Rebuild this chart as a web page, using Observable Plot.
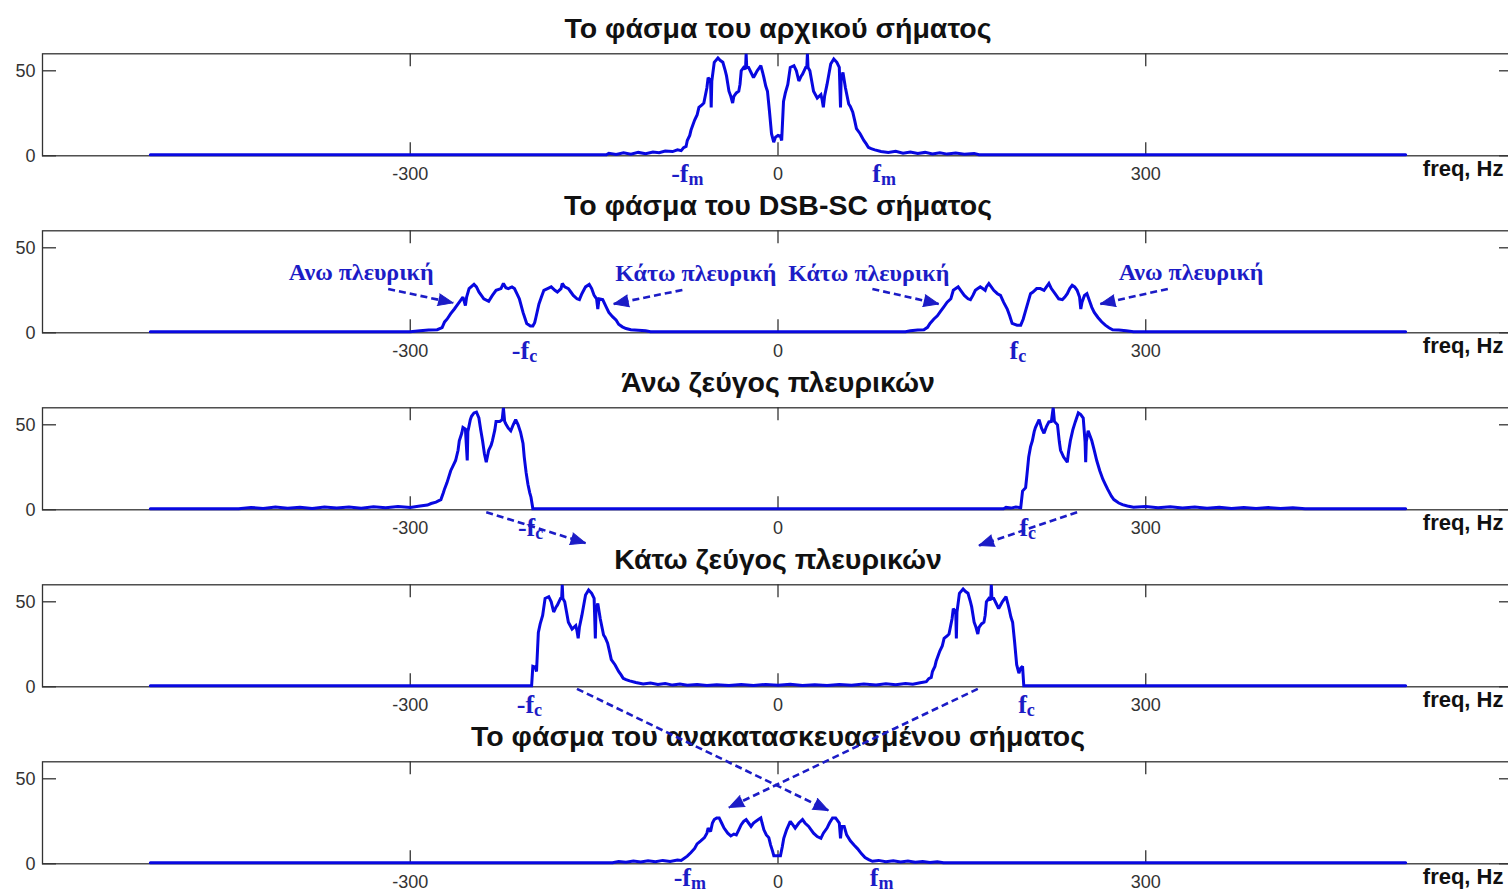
<!DOCTYPE html>
<html>
<head>
<meta charset="utf-8">
<script src="https://cdn.jsdelivr.net/npm/d3@7"></script>
<script src="https://cdn.jsdelivr.net/npm/@observablehq/plot@0.6"></script>
<style>
  html, body { margin: 0; padding: 0; background: #fff; overflow: hidden; }
  #chart { width: 1508px; height: 894px; }
</style>
</head>
<body>
<div id="chart"></div>
<script>
// ---------- data ----------
const panelIds = ["orig", "dsb", "usb", "lsb", "rec"];
const panelTitles = [
  "Το φάσμα του αρχικού σήματος",
  "Το φάσμα του DSB-SC σήματος",
  "Άνω ζεύγος πλευρικών",
  "Κάτω ζεύγος πλευρικών",
  "Το φάσμα του ανακατασκευασμένου σήματος"
];
const xTicks = [-300, 0, 300];
const xTickLabels = ["-300", "0", "300"];
const yTicks = [0, 50];
const yTickLabels = ["0", "50"];
const axisLabel = "freq, Hz";

// [freq (Hz), magnitude]
const origSpectrum = [
  [-512,0.6],[-140,0.6],[-138,1.5],[-132,0.8],[-126,1.8],[-120,1.0],[-114,2.0],[-108,1.2],[-102,2.2],[-97,1.8],
  [-92,2.8],[-86,2.5],[-82,3.5],[-79,3.0],[-77,4.8],[-75,5.5],[-74,9],[-72,12],[-71,15],[-68,21],[-66,24],
  [-64.5,28.5],[-62,30],[-60.5,31],[-58,40],[-57,46],[-55,44],[-54.5,28.5],[-54,44],[-52,55],[-49,57.5],
  [-47,56],[-45,55],[-43,50],[-42,47],[-40,38],[-38.5,35],[-37,31],[-36,35],[-34,37],[-32,38],[-31,42],
  [-30,50],[-28,52],[-26.5,51],[-26,60],[-25.5,52],[-24,52],[-22,49],[-20,46],[-18.5,48],[-17,50],[-15,52],
  [-14,53],[-12.5,49],[-11.5,46],[-10,41],[-8.6,38],[-7,26.5],[-5.3,13],[-3.5,8],[-2,11],[0,12],[2,11.5],
  [3,9],[4.5,32],[6,37],[8,42],[10,52],[13,53],[15,50],[17,44],[19,47],[20,48],[22.6,52],[23.5,52],[24,60],
  [24.5,52],[26,50],[27.5,44],[29,38],[32,34],[35,36],[36,33],[37,28.5],[38,35],[40,42],[41.5,48],[43,54],
  [45.5,57],[48,55],[50,52],[51,28.5],[51.5,45],[53,49],[55,40],[57.7,30.5],[59,29],[61,25.6],[62.5,21],
  [64,16],[67,13],[70,9],[72,7],[73.7,5],[76,4.2],[79,3.5],[84,2.5],[90,2.0],[96,2.6],[102,1.5],[108,2.2],
  [114,1.3],[120,2.0],[126,1.1],[132,1.8],[138,1.0],[145,1.6],[152,0.9],[160,1.4],[164,0.6],[512,0.6]
];
const dsbSpectrum = [
  [-512,0.6],[-300,0.6],[-292,1.2],[-285,1.6],[-278,1.8],[-274,3],[-272,6.4],[-270,8],[-267,11.3],[-264,14],
  [-261,17],[-257,21],[-255,16],[-254,21],[-252,26],[-248,28.5],[-246,27],[-244,24],[-242,22],[-240,20],
  [-236,18.5],[-233,22],[-230,25],[-226,26],[-224,29],[-222,26.5],[-220,26],[-217,27],[-215,26],[-213,23],
  [-211,20],[-208,12],[-205,5.5],[-202,4],[-200,4],[-198.5,6],[-197.5,9],[-195,17],[-193,21],[-191,25],
  [-188,26],[-185,27],[-182,25],[-180,24],[-177,26],[-176,29],[-174,27],[-171,26],[-169,24],[-167,22],
  [-164,20],[-162,19.5],[-160,23],[-157,27],[-154,28.5],[-152,26],[-150,22],[-148,20],[-147,14],[-146,20],
  [-143,19.5],[-140,15],[-138,12],[-135,9.5],[-132,7.4],[-130,5],[-127,3.5],[-124,2.5],[-120,1.8],[-114,1.5],
  [-108,1.2],[-104,0.6],
  [104,0.6],[108,1.2],[114,1.6],[119,1.8],[122,3.2],[124,5.5],[127,8],[130,10],[133,13],[135,15],[138,18],
  [141,20],[143,25],[145,26],[147,27],[149,25],[152,22],[155,20],[157,19.5],[159,22],[161,25],[163,26],
  [165,27],[167,26],[169,25],[170,27],[172,29],[174,27],[176,25],[179,23],[181.5,22],[184,18],[187,14],
  [189,10],[191,5.5],[195,4.5],[198,4.5],[200,8],[202,13],[204,18],[206,23],[208,24],[211,26],[214,26],
  [217,25],[219,27],[221,29],[223,26],[226,23],[229,20],[232,19.5],[234,21],[236,23],[238,26],[240,28],
  [242,27],[244,25],[246,21],[247,14],[248,18],[250,22],[252,23],[254,19],[256,15],[258,12],[261,9],
  [264,6.5],[267,4.5],[270,3],[273,1.8],[278,1.6],[284,1.2],[290,0.6],[512,0.6]
];
const usbSpectrum = [
  [-512,0.6],[-440,0.6],[-430,1.4],[-420,0.8],[-410,1.6],[-400,0.9],[-390,1.5],[-380,0.8],[-370,1.7],
  [-360,1.0],[-350,1.6],[-340,0.9],[-330,1.8],[-320,1.2],[-310,2.0],[-300,1.4],[-292,2.2],[-286,2.8],
  [-283,3.7],[-279,4.5],[-275,6],[-273,10],[-272,12.3],[-270,16],[-267,23],[-265,26],[-263,29],[-261,35],
  [-260,40.6],[-258,45],[-257,48.4],[-255,47.5],[-253.5,29],[-253,46],[-251,53],[-250,55],[-248,57],
  [-246,57.5],[-244,54],[-242.5,47],[-241,40.6],[-239.5,33],[-238,28],[-236,35],[-234,38],[-233,40.6],
  [-231,47],[-230,52],[-227,52],[-225,53],[-224,60],[-223,52],[-222,50.5],[-220,48],[-218,46.5],[-216,50],
  [-214,53],[-212,50],[-210,45.6],[-208,39],[-207,31],[-205.5,22],[-204,15],[-202.5,10],[-201.5,7.4],
  [-200.5,3],[-200,0.6],
  [184,0.6],[186,1.4],[190,1.0],[194,1.6],[198,1.2],[199.5,11],[202,13],[203,20],[204.5,31],[206,37],
  [207.5,40.6],[209,46],[210,48.4],[213,53],[215,48],[217,45],[219,49],[221,51.7],[223,52],[224.5,60],
  [225.5,52],[228,50],[229.5,40],[230.5,35],[233,31],[236,28],[237,34],[238.5,40.6],[240.5,47],[242.5,51.7],
  [245,57],[247,56],[249,54],[250.5,40],[251,28],[251.5,40],[253,46.5],[256,40.6],[258,35],[260,29],
  [262.5,23],[265,18],[267,15],[269,12],[272,8],[274,6],[278,4],[281,3],[285,2.2],[290,1.5],[300,2.0],
  [310,1.2],[320,1.8],[330,1.0],[340,1.6],[350,0.9],[360,1.5],[370,0.8],[380,1.4],[390,0.8],[400,1.3],
  [410,0.7],[420,1.2],[430,0.6],[512,0.6]
];
const lsbSpectrum = [
  [-512,0.6],[-201,0.6],[-200,12],[-198,11.5],[-197,9],[-195.5,32],[-194,37],[-192,42],[-190,52],[-187,53],
  [-185,50],[-183,44],[-181,47],[-180,48],[-177.4,52],[-176.5,52],[-176,60],[-175.5,52],[-174,50],
  [-172.5,44],[-171,38],[-168,34],[-165,36],[-164,33],[-163,28.5],[-162,35],[-160,42],[-158.5,48],[-157,54],
  [-154.5,57],[-152,55],[-150,52],[-149,28.5],[-148.5,45],[-147,49],[-145,40],[-142.3,30.5],[-141,29],
  [-139,25.6],[-137.5,21],[-136,16],[-133,13],[-130,9],[-128,7],[-126.3,5],[-124,4.2],[-121,3.5],[-116,2.5],
  [-110,1.6],[-104,2.2],[-98,1.3],[-92,1.9],[-86,1.0],[-80,1.6],[-74,0.9],[-66,1.4],[-58,0.8],[-50,1.2],
  [-40,0.8],[-30,1.3],[-20,0.8],[-10,1.4],[0,0.9],[10,1.5],[20,0.8],[30,1.2],[40,0.8],[50,1.4],[60,0.9],
  [70,1.6],[80,1.0],[88,1.8],[96,1.2],[104,2.0],[110,1.5],[116,2.4],[121,3.0],[123,4.8],[125,5.5],[126,9],
  [128,12],[129,15],[132,21],[134,24],[135.5,28.5],[138,30],[139.5,31],[142,40],[143,46],[145,44],
  [145.5,28.5],[146,44],[148,55],[151,57.5],[153,56],[155,55],[157,50],[158,47],[160,38],[161.5,35],
  [163,31],[164,35],[166,37],[168,38],[169,42],[170,50],[172,52],[173.5,51],[174,60],[174.5,52],[176,52],
  [178,49],[180,46],[181.5,48],[183,50],[185,52],[186,53],[187.5,49],[188.5,46],[190,41],[191.4,38],
  [193,26.5],[194.7,13],[196.5,8],[198,11],[199.5,12],[200.5,0.6],[512,0.6]
];
const recSpectrum = [
  [-512,0.6],[-135,0.6],[-130,1.4],[-124,0.9],[-118,1.6],[-112,1.0],[-106,1.8],[-100,1.2],[-94,2.0],
  [-88,1.4],[-82,2.2],[-79,2.0],[-77,3],[-74,4.5],[-71,6.6],[-68,9],[-66,11.7],[-63,13.5],[-60,15.4],
  [-58,18],[-57,21],[-55,19],[-53.5,24],[-52,26],[-50,27],[-48,27],[-46,24],[-44,21],[-41,18],[-38.5,16.4],
  [-36,17.5],[-34,17],[-32,20],[-30,23],[-28,25],[-26,26],[-24,24],[-22,22],[-20,24],[-18,25],[-16,26],
  [-14,27],[-13,24],[-11.5,20],[-9.5,17],[-7.5,15.4],[-6,11],[-4.5,7.6],[-3.4,4.7],[0,4.7],[2,4.7],
  [3.5,10],[4.7,15],[7,20],[10,25],[12,23],[14,21],[17,24],[20,26],[22,24],[25,22],[27,20],[29,18],[32,16],
  [35,15],[37,18],[40,21],[42,24],[44.5,27],[47,27],[48,26],[50,24],[51,15],[52,22],[54,22],[56,17],
  [59,13.5],[62,11],[65,8.8],[68,6],[71,3.7],[74,2.5],[77,1.5],[82,2.0],[88,1.2],[94,1.8],[100,1.0],
  [106,1.6],[112,0.9],[118,1.4],[124,0.8],[130,1.2],[135,0.6],[512,0.6]
];

// annotation texts (panel, freq, magnitude)
const bandLabels = [
  {panel: "dsb", f: -340, v: 35.5, text: "Ανω πλευρική"},
  {panel: "dsb", f: -67, v: 34.8, text: "Κάτω πλευρική"},
  {panel: "dsb", f: 74, v: 34.8, text: "Κάτω πλευρική"},
  {panel: "dsb", f: 337, v: 35.5, text: "Ανω πλευρική"}
];
// frequency markers: main symbol + subscript, split at freq f
const freqMarks = [
  {panel: "orig", f: -73, main: "-f", sub: "m"},
  {panel: "orig", f: 84, main: "f", sub: "m"},
  {panel: "dsb", f: -203, main: "-f", sub: "c"},
  {panel: "dsb", f: 196, main: "f", sub: "c"},
  {panel: "usb", f: -198, main: "-f", sub: "c"},
  {panel: "usb", f: 204, main: "f", sub: "c"},
  {panel: "lsb", f: -199, main: "-f", sub: "c"},
  {panel: "lsb", f: 203, main: "f", sub: "c"},
  {panel: "rec", f: -71, main: "-f", sub: "m"},
  {panel: "rec", f: 82, main: "f", sub: "m"}
];
// dashed arrows (start -> tip), in the coordinates of their panel
const arrows = [
  {panel: "dsb", x1: -318, y1: 25.8, x2: -265, y2: 17.6},
  {panel: "dsb", x1: -78, y1: 25.2, x2: -134, y2: 17},
  {panel: "dsb", x1: 77, y1: 25.8, x2: 131, y2: 17},
  {panel: "dsb", x1: 318, y1: 25.8, x2: 263, y2: 17},
  {panel: "usb", x1: -238, y1: -1.4, x2: -157, y2: -19.6},
  {panel: "usb", x1: 244, y1: -1.4, x2: 164, y2: -21},
  {panel: "lsb", x1: -164, y1: -1.2, x2: 41, y2: -72.7},
  {panel: "lsb", x1: 163, y1: -1.2, x2: -40, y2: -71}
];

// ---------- build ----------
const spectra = {orig: origSpectrum, dsb: dsbSpectrum, usb: usbSpectrum, lsb: lsbSpectrum, rec: recSpectrum};
const rows = panelIds.flatMap(p => spectra[p].map(([f, v]) => ({panel: p, f, v})));
const titleRows = panelIds.map((p, i) => ({panel: p, title: panelTitles[i]}));
const lastPanel = panelIds[panelIds.length - 1];
const upperMarks = freqMarks.filter(d => d.panel !== lastPanel);
const lowerMarks = freqMarks.filter(d => d.panel === lastPanel);

const W = 1508, H = 894;
const xDomain = [-600, 600], xRange = [42, 1513];
const yDomain = [0, 60];
const fyRange = [53.3, 863.3];
const bandH = 102;
const kx = (xRange[1] - xRange[0]) / (xDomain[1] - xDomain[0]);
const ky = bandH / (yDomain[1] - yDomain[0]);

const lineBlue = "#0808e0";
const noteBlue = "#1c1cc6";
const axisColor = "#333";
const sans = "'Liberation Sans', Arial, sans-serif";
const serif = "'Liberation Serif', 'Times New Roman', serif";

const markText = (data, dyMain, dySub) => [
  Plot.text(data, {fy: "panel", x: "f", text: "main", frameAnchor: "bottom", lineAnchor: "bottom", textAnchor: "end", dy: dyMain, fontFamily: serif, fontSize: 26, fontWeight: "bold", fill: noteBlue}),
  Plot.text(data, {fy: "panel", x: "f", text: "sub", frameAnchor: "bottom", lineAnchor: "bottom", textAnchor: "start", dy: dySub, fontFamily: serif, fontSize: 18, fontWeight: "bold", fill: noteBlue})
];

const chart = Plot.plot({
  width: W,
  height: H,
  marginLeft: 42,
  marginRight: -5,
  marginTop: 0,
  marginBottom: 0,
  style: {background: "white", fontFamily: sans, fontSize: "18px", color: axisColor},
  x: {domain: xDomain, range: xRange, axis: null},
  y: {domain: yDomain, axis: null},
  fy: {domain: panelIds, range: fyRange, paddingInner: 1 - bandH / 177, paddingOuter: 0, round: false, axis: null},
  marks: [
    Plot.frame({stroke: axisColor, strokeWidth: 1.3}),
    Plot.tickX(xTicks, {x: d => d, insetTop: bandH - 13, stroke: axisColor, strokeWidth: 1.3}),
    Plot.tickX(xTicks, {x: d => d, insetBottom: bandH - 13, stroke: axisColor, strokeWidth: 1.3}),
    Plot.tickY(yTicks, {y: d => d, insetRight: 1457, stroke: axisColor, strokeWidth: 1.3}),
    Plot.tickY(yTicks, {y: d => d, insetLeft: 1457, stroke: axisColor, strokeWidth: 1.3}),
    Plot.line(rows, {x: "f", y: "v", z: "panel", fy: "panel", stroke: lineBlue, strokeWidth: 3, strokeLinejoin: "miter", strokeMiterlimit: 2}),
    Plot.text(xTicks, {x: d => d, text: (d, i) => xTickLabels[i], frameAnchor: "bottom", lineAnchor: "bottom", dy: 24.5, fontSize: 18, fill: axisColor}),
    Plot.text(yTicks, {y: d => d, text: (d, i) => yTickLabels[i], frameAnchor: "left", textAnchor: "end", dx: -7, fontSize: 18, fill: axisColor}),
    Plot.text([axisLabel], {text: d => d, frameAnchor: "bottom-right", textAnchor: "end", lineAnchor: "bottom", dx: -10, dy: 20.5, fontSize: 22, fontWeight: "bold", fill: "#111"}),
    Plot.text(titleRows, {fy: "panel", text: "title", frameAnchor: "top", lineAnchor: "bottom", dy: -16, fontSize: 28.5, fontWeight: "bold", fill: "#111"}),
    Plot.text(bandLabels, {fy: "panel", x: "f", y: "v", text: "text", fontFamily: serif, fontSize: 24, fontWeight: "bold", fill: noteBlue}),
    Plot.link(arrows, {fy: "panel", x1: "x1", y1: "y1", x2: "x2", y2: "y2", stroke: noteBlue, strokeWidth: 2.6, strokeDasharray: "7,4"}),
    Plot.vector(arrows, {fy: "panel", x: "x2", y: "y2", length: 15, r: 6, shape: "spike", anchor: "end",
      rotate: d => Math.atan2((d.x2 - d.x1) * kx, (d.y2 - d.y1) * ky) * 180 / Math.PI,
      fill: noteBlue, stroke: noteBlue, strokeWidth: 1}),
    ...markText(upperMarks, 26.5, 29.5),
    ...markText(lowerMarks, 22.5, 25)
  ]
});
document.getElementById("chart").appendChild(chart);
</script>
</body>
</html>
